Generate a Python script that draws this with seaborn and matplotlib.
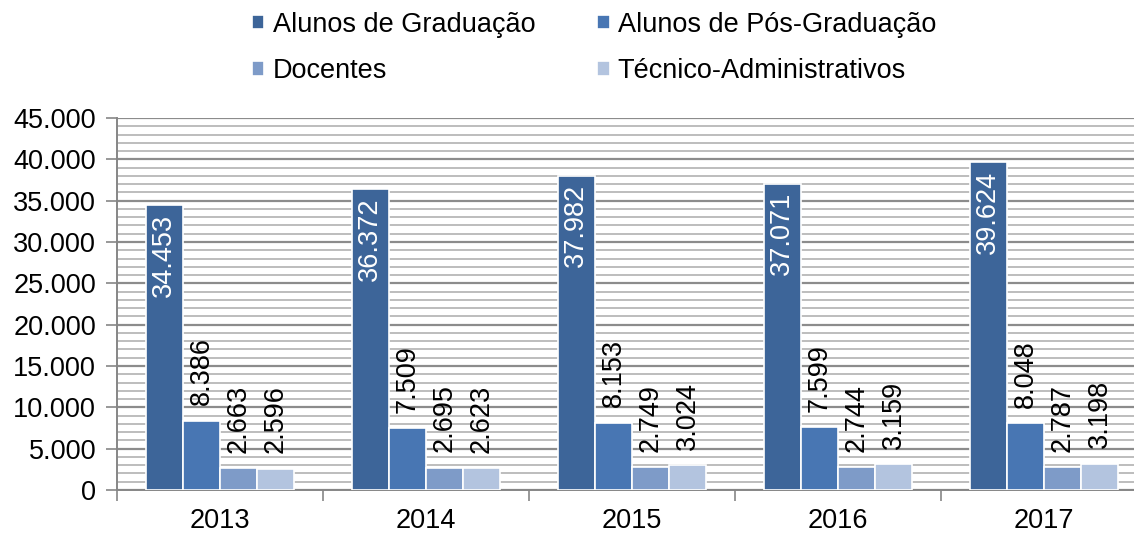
import numpy as np
import pandas as pd
import seaborn as sns
import matplotlib.pyplot as plt

# Data
years = ["2013", "2014", "2015", "2016", "2017"]
series = ["Alunos de Graduação", "Alunos de Pós-Graduação", "Docentes", "Técnico-Administrativos"]
graduacao = [34453, 36372, 37982, 37071, 39624]
pos_graduacao = [8386, 7509, 8153, 7599, 8048]
docentes = [2663, 2695, 2749, 2744, 2787]
tecnicos = [2596, 2623, 3024, 3159, 3198]

colors = ["#3D6599", "#4876B3", "#7E9BC8", "#B3C4DF"]

rows = []
for name, vals in zip(series, [graduacao, pos_graduacao, docentes, tecnicos]):
    for y, v in zip(years, vals):
        rows.append({"Ano": y, "Série": name, "Valor": v})
df = pd.DataFrame(rows)

sns.set_style("white")
plt.rcParams["font.family"] = ["Liberation Sans", "DejaVu Sans"]
plt.rcParams["text.color"] = "black"
plt.rcParams["xtick.color"] = "black"
plt.rcParams["ytick.color"] = "black"
FS = 19.5

fig = plt.figure(figsize=(11.34, 5.33), dpi=100)
ax = fig.add_axes([117 / 1134, 43 / 533, 1030 / 1134, 372 / 533])

sns.barplot(data=df, x="Ano", y="Valor", hue="Série", palette=colors,
            width=0.72, gap=0, edgecolor="white", linewidth=1.2,
            saturation=1, ax=ax, zorder=3)

ax.set_ylim(0, 45000)
ax.set_xlim(-0.5, len(years) - 0.5)
ax.set_xlabel("")
ax.set_ylabel("")

# gridlines
ax.set_yticks(np.arange(0, 45001, 5000))
ax.set_yticks(np.arange(0, 45001, 1000), minor=True)
ax.set_yticklabels([f"{int(v):,}".replace(",", ".") for v in np.arange(0, 45001, 5000)])
ax.grid(axis="y", which="minor", color="#BDBDBD", linewidth=1.4, zorder=0)
ax.grid(axis="y", which="major", color="#8C8C8C", linewidth=1.6, zorder=0)
ax.set_axisbelow(True)

ax.tick_params(axis="y", which="major", length=8, width=1.2, color="#868686",
               labelsize=FS, labelcolor="black", pad=7, direction="out", left=True)
ax.tick_params(axis="y", which="minor", length=0)
ax.set_xticks(np.arange(len(years)) - 0.5, minor=True)
ax.tick_params(axis="x", which="major", length=0, labelsize=FS, labelcolor="black", pad=13)
ax.tick_params(axis="x", which="minor", length=8, width=1.2, color="#868686",
               direction="out", bottom=True)

for s in ["top", "right"]:
    ax.spines[s].set_visible(False)
for s in ["left", "bottom"]:
    ax.spines[s].set_color("#868686")
    ax.spines[s].set_linewidth(1.4)

# value labels
for i, cont in enumerate(ax.containers):
    for bar in cont:
        h = bar.get_height()
        txt = f"{int(h):,}".replace(",", ".")
        x = bar.get_x() + bar.get_width() / 2
        if i == 0:
            ax.annotate(txt, (x, h), xytext=(0, -6), textcoords="offset points",
                        rotation=90, ha="center", va="top", color="white",
                        fontsize=FS, zorder=5)
        else:
            ax.annotate(txt, (x, h), xytext=(0, 11), textcoords="offset points",
                        rotation=90, ha="center", va="bottom", color="black",
                        fontsize=FS, zorder=5)

handles, labels = ax.get_legend_handles_labels()
ax.get_legend().remove()
order = [0, 2, 1, 3]
fig.legend([handles[k] for k in order], [labels[k] for k in order],
           loc="upper center", bbox_to_anchor=(0.524, 1.024),
           ncol=2, frameon=False, fontsize=FS, handlelength=0.45,
           handleheight=0.45, handletextpad=0.3, columnspacing=2.3,
           labelspacing=0.75)

fig.savefig("out.png", dpi=100)
